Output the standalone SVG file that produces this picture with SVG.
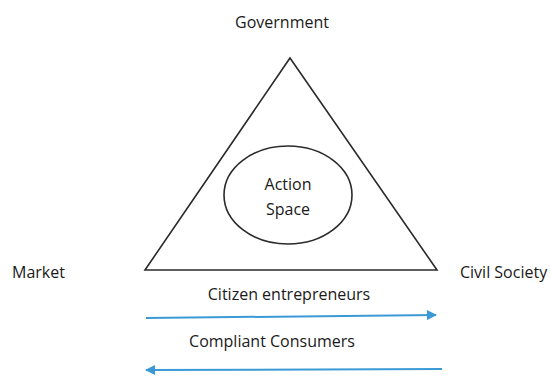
<svg xmlns="http://www.w3.org/2000/svg" width="550" height="376" viewBox="0 0 550 376">
  <style>
    .lbl { font-family: "Open Sans", "Liberation Sans", sans-serif; font-size: 16px; fill: #1a1a1a; }
    .shape { fill: none; stroke: #2a2a2a; stroke-width: 1.6; }
    .flow { fill: none; stroke: #3b9ad6; stroke-width: 2; }
  </style>
  <defs>
    <marker id="head" viewBox="0 0 10 10" refX="9" refY="5" markerWidth="6.5" markerHeight="5" orient="auto">
      <path d="M0,0 L10,5 L0,10 z" fill="#3b9ad6"/>
    </marker>
  </defs>
  <rect width="550" height="376" fill="#fff"/>

  <g id="triangle">
    <polygon class="shape" points="290,58 437,270 145,270"/>
  </g>
  <g id="action-space">
    <ellipse class="shape" cx="288" cy="195" rx="64" ry="49"/>
    <text class="lbl" x="288" y="190" text-anchor="middle">Action</text>
    <text class="lbl" x="288" y="215" text-anchor="middle">Space</text>
  </g>
  <g id="government">
    <text class="lbl" x="282" y="28" text-anchor="middle">Government</text>
  </g>
  <g id="market">
    <text class="lbl" x="12" y="278">Market</text>
  </g>
  <g id="civil-society">
    <text class="lbl" x="460" y="278">Civil Society</text>
  </g>

  <g id="connectors">
    <line class="flow" x1="146" y1="318" x2="436" y2="315" marker-end="url(#head)"/>
    <line class="flow" x1="442" y1="369" x2="146" y2="370" marker-end="url(#head)"/>
  </g>
  <g id="flow-labels">
    <text class="lbl" x="289" y="300" text-anchor="middle">Citizen entrepreneurs</text>
    <text class="lbl" x="272" y="347" text-anchor="middle">Compliant Consumers</text>
  </g>
</svg>
